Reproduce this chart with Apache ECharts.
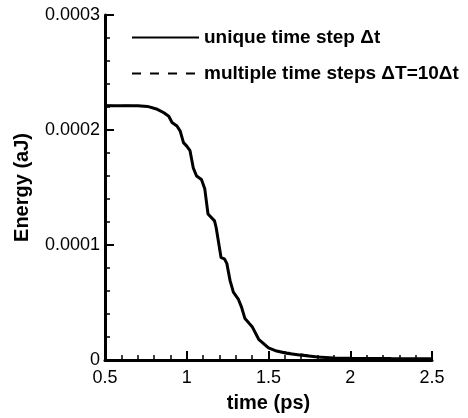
<!DOCTYPE html>
<html>
<head>
<meta charset="utf-8">
<script src="https://cdn.jsdelivr.net/npm/echarts@6/dist/echarts.min.js"></script>
<style>html,body{margin:0;padding:0;background:#fff}#c{width:468px;height:418px}</style>
</head>
<body>
<div id="c"></div>
<script>
// time (ps)
const uniqueTime = [0.50,0.60,0.70,0.76,0.82,0.86,0.89,0.91,0.94,0.96,0.98,1.00,1.02,1.04,1.06,1.09,1.11,1.13,1.17,1.18,1.21,1.23,1.245,1.265,1.285,1.315,1.335,1.356,1.40,1.44,1.50,1.55,1.61,1.69,1.80,1.90,2.00,2.25,2.50];
// energy (aJ)
const uniqueEnergy = [0.000221,0.000221,0.000221,0.0002205,0.000218,0.000215,0.000212,0.0002065,0.0002035,0.000199,0.000189,0.000186,0.000182,0.000167,0.000160,0.000157,0.000149,0.000127,0.000121,0.000115,0.000089,0.000088,0.000084,0.000069,0.000059,0.000053,0.000046,0.000036,0.000029,0.000018,0.0000105,0.0000078,0.0000058,0.0000043,0.0000026,0.0000018,0.0000015,0.0000012,0.0000010];
const multiTime = [0.50,0.60,0.70,0.76,0.82,0.86,0.89,0.91,0.94,0.96,0.98,1.00,1.02,1.04,1.06,1.09,1.11,1.13,1.17,1.18,1.21,1.23,1.245,1.265,1.285,1.315,1.335,1.356,1.40,1.44,1.50,1.55,1.61,1.69,1.80,1.90,2.00,2.25,2.50];
const multiEnergy = [0.0002213,0.0002213,0.0002212,0.0002206,0.000218,0.000215,0.000212,0.0002065,0.0002035,0.000199,0.000189,0.000186,0.000182,0.000167,0.000160,0.000157,0.000149,0.000127,0.000121,0.000115,0.000089,0.000088,0.000084,0.000069,0.000059,0.000053,0.000046,0.000036,0.000029,0.000018,0.0000105,0.0000082,0.0000068,0.0000052,0.0000030,0.0000020,0.0000016,0.0000012,0.0000010];
const xTicks = [0.5, 1, 1.5, 2, 2.5];
const yTicks = [0, 0.0001, 0.0002, 0.0003];
const seriesNames = ['unique time step \u0394t', 'multiple time steps \u0394T=10\u0394t'];

const toPairs = (xs, ys) => xs.map((x, i) => [x, ys[i]]);
const chart = echarts.init(document.getElementById('c'), null, {renderer: 'canvas'});
const FONT = 'Liberation Sans, Arial, sans-serif';
const axisFont = {fontFamily: FONT, fontSize: 18, color: '#000'};
chart.setOption({
  animation: false,
  backgroundColor: '#fff',
  grid: {left: 105, right: 36, top: 15, bottom: 58, containLabel: false},
  legend: {
    orient: 'vertical', left: 126, top: 23, itemWidth: 67, itemHeight: 16, itemGap: 17,
    itemStyle: {color: 'rgba(0,0,0,0)', borderWidth: 0},
    textStyle: {fontFamily: FONT, fontWeight: 'bold', fontSize: 19, color: '#000'},
    data: [
      {name: seriesNames[0], lineStyle: {width: 2, type: 'solid', color: '#000'}},
      {name: seriesNames[1], lineStyle: {width: 2, type: [9, 9], color: '#000'}}
    ]
  },
  xAxis: {
    type: 'value', min: 0.5, max: 2.5, interval: 0.5,
    name: 'time (ps)', nameLocation: 'middle', nameGap: 33,
    nameTextStyle: {fontFamily: FONT, fontWeight: 'bold', fontSize: 20, color: '#000'},
    axisLine: {onZero: false, lineStyle: {color: '#000', width: 3}},
    axisTick: {inside: true, length: 9, lineStyle: {color: '#000', width: 2}},
    minorTick: {show: true, splitNumber: 5, length: 5, lineStyle: {color: '#000', width: 1.5}},
    axisLabel: Object.assign({margin: 9, formatter: v => String(+v.toFixed(1))}, axisFont),
    splitLine: {show: false}
  },
  yAxis: {
    type: 'value', min: 0, max: 0.0003, interval: 0.0001,
    name: 'Energy (aJ)', nameLocation: 'middle', nameGap: 73, nameRotate: 90,
    nameTextStyle: {fontFamily: FONT, fontWeight: 'bold', fontSize: 20, color: '#000'},
    axisLine: {onZero: false, lineStyle: {color: '#000', width: 3}},
    axisTick: {inside: true, length: 9, lineStyle: {color: '#000', width: 2}},
    minorTick: {show: true, splitNumber: 5, length: 5, lineStyle: {color: '#000', width: 1.5}},
    axisLabel: Object.assign({margin: 5, formatter: v => v === 0 ? '0' : v.toFixed(4)}, axisFont),
    splitLine: {show: false}
  },
  series: [
    {name: seriesNames[0], type: 'line', data: toPairs(uniqueTime, uniqueEnergy), showSymbol: false, symbol: 'none', z: 3,
     lineStyle: {color: '#000', width: 3, type: 'solid'}, itemStyle: {color: '#000'}},
    {name: seriesNames[1], type: 'line', data: toPairs(multiTime, multiEnergy), showSymbol: false, symbol: 'none', z: 2,
     lineStyle: {color: '#000', width: 1.5, type: [8,10]}, itemStyle: {color: '#000'}}
  ]
});
</script>
</body>
</html>
